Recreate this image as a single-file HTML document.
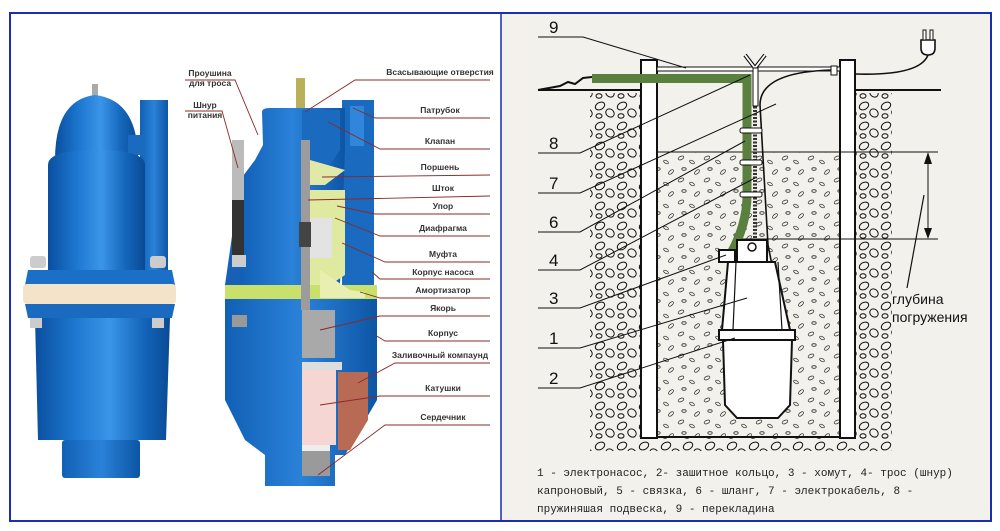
<!DOCTYPE html>
<html><head><meta charset="utf-8"><style>
html,body{margin:0;padding:0;background:#fff;width:1000px;height:531px;overflow:hidden}
svg{display:block}
.lb{font-family:"Liberation Sans",sans-serif;font-size:8.5px;font-weight:bold;fill:#333;text-anchor:middle}
.num{font-family:"Liberation Sans",sans-serif;font-size:17px;fill:#111}
.cap{font-family:"Liberation Mono",monospace;font-size:11px;fill:#222}
</style></head><body>
<svg width="1000" height="531" viewBox="0 0 1000 531" xmlns="http://www.w3.org/2000/svg">
<defs>
<linearGradient id="bl" x1="0" x2="1" y1="0" y2="0">
<stop offset="0" stop-color="#0a4fa0"/><stop offset="0.3" stop-color="#1e78d0"/><stop offset="0.55" stop-color="#3a95e8"/><stop offset="0.8" stop-color="#1466bb"/><stop offset="1" stop-color="#0a4a95"/></linearGradient>
<linearGradient id="bl2" x1="0" x2="1"><stop offset="0" stop-color="#1160b5"/><stop offset="0.5" stop-color="#2a82d8"/><stop offset="1" stop-color="#0d55a5"/></linearGradient>
<pattern id="grav" width="26" height="22" patternUnits="userSpaceOnUse">
<ellipse cx="5" cy="4" rx="3" ry="1.6" fill="none" stroke="#333" stroke-width="0.8" transform="rotate(-25 5 4)"/>
<ellipse cx="16" cy="8" rx="2.6" ry="1.4" fill="none" stroke="#333" stroke-width="0.8" transform="rotate(30 16 8)"/>
<ellipse cx="8" cy="15" rx="2.2" ry="1.3" fill="none" stroke="#333" stroke-width="0.8"/>
<ellipse cx="21" cy="18" rx="3" ry="1.5" fill="none" stroke="#333" stroke-width="0.8" transform="rotate(-40 21 18)"/>
</pattern>
<pattern id="rock" width="22" height="20" patternUnits="userSpaceOnUse">
<ellipse cx="6" cy="6" rx="5" ry="3.5" fill="none" stroke="#111" stroke-width="1" transform="rotate(-30 6 6)"/>
<ellipse cx="16" cy="13" rx="4.5" ry="3.8" fill="none" stroke="#111" stroke-width="1" transform="rotate(40 16 13)"/>
<ellipse cx="5" cy="16" rx="3" ry="2.2" fill="none" stroke="#111" stroke-width="1"/>
</pattern>
</defs>
<rect x="0" y="0" width="1000" height="531" fill="#fff"/>
<rect x="501" y="14" width="490" height="506" fill="#f3f1ec"/>
<rect x="10" y="13" width="981" height="508" fill="none" stroke="#1a2fb0" stroke-width="2"/>
<line x1="501" y1="13" x2="501" y2="521" stroke="#1a2fb0" stroke-width="1.5"/>

<g>
<rect x="92" y="84" width="6" height="12" fill="#aaa"/>
<path d="M55 160 Q55 100 95 95 Q138 100 138 160 Z" fill="url(#bl)"/>
<rect x="140" y="100" width="28" height="170" fill="url(#bl2)"/>
<rect x="128" y="135" width="16" height="20" fill="#1a6ac0"/>
<path d="M48 165 Q48 150 95 150 Q145 150 145 165 L145 270 L48 270 Z" fill="url(#bl)"/>
<path d="M28 270 L172 270 L175 285 L25 285 Z" fill="#1c6fc6"/>
<rect x="23" y="284" width="153" height="20" rx="4" fill="#f3e3c8"/>
<path d="M25 304 L175 304 L172 318 L28 318 Z" fill="#1a6ac0"/>
<path d="M35 318 L170 318 L166 440 L38 440 Z" fill="url(#bl)"/>
<rect x="62" y="440" width="78" height="38" rx="3" fill="url(#bl2)"/>
<rect x="30" y="256" width="16" height="12" rx="3" fill="#ccc"/>
<rect x="150" y="256" width="16" height="12" rx="3" fill="#ccc"/>
<rect x="30" y="318" width="12" height="10" fill="#ccc"/>
<rect x="152" y="318" width="12" height="10" fill="#ccc"/>
</g>

<g>
<rect x="296" y="78" width="9" height="34" fill="#b9b15a"/>
<rect x="342" y="100" width="32" height="185" fill="#1a6ac0"/>
<rect x="350" y="106" width="14" height="40" fill="#2f86da"/>
<path d="M263 145 L262 112 Q262 108 270 108 L345 108 L345 150 L340 285 L240 285 L240 180 L255 160 Z" fill="url(#bl2)"/>
<path d="M240 180 L225 285 L240 285 Z" fill="#1860b5"/>
<rect x="225" y="285" width="152" height="14" fill="#c9e06a"/>
<path d="M225 299 L377 299 L377 400 L345 455 L335 455 L335 486 L265 486 L265 455 L245 440 L225 400 Z" fill="url(#bl2)"/>
<rect x="232" y="140" width="12" height="70" fill="#bbb"/>
<rect x="232" y="200" width="12" height="55" fill="#333"/>
<rect x="232" y="255" width="14" height="12" fill="#ccc"/>
<rect x="232" y="315" width="15" height="12" fill="#999"/>
<path d="M302 110 L340 110 L340 150 L330 165 L302 165 Z" fill="#1a6ac0"/>
<path d="M310 160 L345 170 L325 185 L310 185 Z" fill="#e2e9a8"/>
<path d="M305 190 L345 190 L345 275 L330 285 L305 285 Z" fill="#dfeaa0"/>
<rect x="310" y="218" width="22" height="40" fill="#e3e3e3"/>
<path d="M320 270 L350 290 L365 292 L365 298 L320 298 Z" fill="#e8efb0"/>
<rect x="301" y="140" width="9" height="170" fill="#9c9c9c"/>
<rect x="299" y="222" width="12" height="25" fill="#444"/>
<rect x="302" y="310" width="33" height="48" fill="#a9a9a9"/>
<rect x="302" y="362" width="40" height="8" fill="#ddd"/>
<rect x="302" y="370" width="34" height="75" fill="#f6d6d2"/>
<path d="M338 372 L368 372 L368 420 L350 450 L338 450 Z" fill="#b86a55"/>
<rect x="302" y="445" width="28" height="6" fill="#eee"/>
<rect x="302" y="451" width="28" height="25" fill="#9a9a9a"/>
</g>
<g stroke="#8b2a2a" stroke-width="0.9" fill="none">
<path d="M185 80 L235 80 L258 135"/>
<path d="M185 111 L222 111 L238 168"/>
<path d="M305 112 L355 80 L490 80"/>
<path d="M353 108 L375 118 L490 118"/>
<path d="M328 122 L380 149 L490 149"/>
<path d="M322 177 L490 175"/>
<path d="M308 200 L490 196"/>
<path d="M337 206 L375 214 L490 214"/>
<path d="M335 218 L380 236 L490 236"/>
<path d="M342 243 L385 262 L490 262"/>
<path d="M372 272 L380 279 L490 279"/>
<path d="M360 292 L380 298 L490 298"/>
<path d="M320 330 L380 316 L490 316"/>
<path d="M375 335 L385 341 L490 341"/>
<path d="M358 383 L395 363 L490 363"/>
<path d="M320 405 L380 396 L490 396"/>
<path d="M318 475 L385 425 L490 425"/>
</g>
<text class="lb" x="210" y="76">Проушина</text>
<text class="lb" x="210" y="86">для троса</text>
<text class="lb" x="205" y="108">Шнур</text>
<text class="lb" x="205" y="118">питания</text>
<text class="lb" x="440" y="75">Всасывающие отверстия</text>
<text class="lb" x="440" y="113">Патрубок</text>
<text class="lb" x="440" y="144">Клапан</text>
<text class="lb" x="440" y="170">Поршень</text>
<text class="lb" x="443" y="191">Шток</text>
<text class="lb" x="443" y="209">Упор</text>
<text class="lb" x="443" y="231">Диафрагма</text>
<text class="lb" x="443" y="257">Муфта</text>
<text class="lb" x="443" y="275">Корпус насоса</text>
<text class="lb" x="443" y="293">Амортизатор</text>
<text class="lb" x="443" y="311">Якорь</text>
<text class="lb" x="443" y="336">Корпус</text>
<text class="lb" x="440" y="358">Заливочный компаунд</text>
<text class="lb" x="443" y="391">Катушки</text>
<text class="lb" x="443" y="420">Сердечник</text>

<g>
<rect x="590" y="93" width="51" height="345" fill="url(#rock)"/>
<rect x="856" y="93" width="36" height="345" fill="url(#rock)"/>
<rect x="590" y="437" width="302" height="14" fill="url(#rock)"/>
<rect x="658" y="152" width="182" height="284" fill="url(#grav)"/>
<rect x="641" y="60" width="16" height="378" fill="#fff" stroke="#111" stroke-width="2"/>
<rect x="840" y="60" width="15" height="378" fill="#fff" stroke="#111" stroke-width="2"/>
<line x1="657" y1="437" x2="840" y2="437" stroke="#111" stroke-width="2"/>
<line x1="538" y1="90" x2="641" y2="90" stroke="#111" stroke-width="2"/>
<line x1="855" y1="90" x2="941" y2="90" stroke="#111" stroke-width="2"/>
<path d="M538 90 L560 86 L568 82 L575 84 L583 78 L592 77" fill="none" stroke="#111" stroke-width="2"/>
<rect x="657" y="67" width="183" height="4" fill="#fff" stroke="#111" stroke-width="1"/>
<line x1="658" y1="152" x2="938" y2="152" stroke="#111" stroke-width="1"/>
<line x1="740" y1="239" x2="938" y2="239" stroke="#111" stroke-width="1"/>
<line x1="928" y1="155" x2="928" y2="236" stroke="#111" stroke-width="1"/>
<path d="M924 164 L928 152 L932 164 Z M924 228 L928 239 L932 228 Z" fill="#111"/>
<path d="M907 288 L924 195" stroke="#111" stroke-width="1.2" fill="none"/>
<path d="M592 78.5 L747 78.5 L747 195 Q747 225 730 255" fill="none" stroke="#5a8040" stroke-width="9"/>
<path d="M755 75 L755 243" stroke="#333" stroke-width="4" stroke-dasharray="2 1.5"/>
<path d="M745 55 L755 68 L765 55" fill="none" stroke="#111" stroke-width="4"/>
<path d="M745 55 L755 68 L765 55" fill="none" stroke="#fff" stroke-width="1.8"/>
<rect x="753" y="68" width="5" height="38" fill="#fff" stroke="#111"/>
<path d="M760 105 Q760 72 832 70" fill="none" stroke="#111" stroke-width="1.6"/>
<path d="M760 105 L768 245 L786 335" fill="none" stroke="#111" stroke-width="1.6"/>
<rect x="831" y="66" width="6" height="9" fill="#fff" stroke="#111"/>
<path d="M855 74 Q920 76 928 55" fill="none" stroke="#111" stroke-width="1.6"/>
<path d="M921 40 L935 40 L935 48 Q935 55 928 55 Q921 55 921 48 Z" fill="#fff" stroke="#111" stroke-width="1.6"/>
<rect x="923" y="30" width="3" height="10" fill="#fff" stroke="#111"/>
<rect x="930" y="30" width="3" height="10" fill="#fff" stroke="#111"/>
<rect x="740" y="128" width="22" height="5" rx="2" fill="#fff" stroke="#111"/>
<rect x="740" y="160" width="22" height="5" rx="2" fill="#fff" stroke="#111"/>
<rect x="740" y="192" width="22" height="5" rx="2" fill="#fff" stroke="#111"/>
<g fill="#fff" stroke="#111" stroke-width="2">
<rect x="737" y="240" width="30" height="22"/>
<rect x="719" y="250" width="16" height="12"/>
<path d="M728 262 L775 262 L790 330 L722 330 Z"/>
<rect x="719" y="330" width="76" height="10"/>
<path d="M723 340 L792 340 L790 405 L778 418 L737 418 L725 405 Z"/>
</g>
<circle cx="752" cy="247" r="4" fill="none" stroke="#111" stroke-width="1.5"/>
<line x1="736" y1="262" x2="733" y2="330" stroke="#111" stroke-width="1.2"/>
<line x1="778" y1="262" x2="782" y2="330" stroke="#111" stroke-width="1.2"/>
<g stroke="#111" stroke-width="1" fill="none">
<path d="M538 37 L583 37 L686 68"/>
<path d="M538 153 L580 153 L750 75"/>
<path d="M538 193 L580 193 L776 104"/>
<path d="M538 232 L580 232 L745 141"/>
<path d="M538 270 L580 270 L755 178"/>
<path d="M538 308 L580 308 L726 255"/>
<path d="M538 348 L580 348 L747 298"/>
<path d="M538 388 L580 388 L735 338"/>
</g>
<text class="num" x="549" y="33">9</text>
<text class="num" x="549" y="149">8</text>
<text class="num" x="549" y="189">7</text>
<text class="num" x="549" y="228">6</text>
<text class="num" x="549" y="266">4</text>
<text class="num" x="549" y="304">3</text>
<text class="num" x="549" y="344">1</text>
<text class="num" x="549" y="384">2</text>
<text x="892" y="304" font-family="Liberation Sans,sans-serif" font-size="14" fill="#111">глубина</text>
<text x="892" y="322" font-family="Liberation Sans,sans-serif" font-size="14" fill="#111">погружения</text>
<text class="cap" x="537" y="476">1 - электронасос, 2- зашитное кольцо, 3 - хомут, 4- трос (шнур)</text>
<text class="cap" x="537" y="494">капроновый, 5 - связка, 6 - шланг, 7 - электрокабель, 8 -</text>
<text class="cap" x="537" y="512">пружиняшая подвеска, 9 - перекладина</text>
</g>
</svg>
</body></html>
